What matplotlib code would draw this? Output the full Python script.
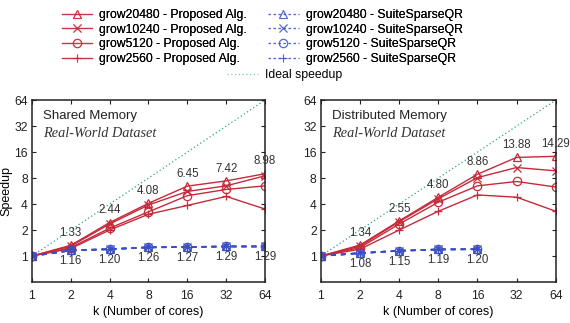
import matplotlib
matplotlib.use("Agg")
import matplotlib.pyplot as plt
from matplotlib.lines import Line2D

plt.rcParams['font.family'] = ['Liberation Sans', 'DejaVu Sans']

cores = [1, 2, 4, 8, 16, 32, 64]
datasets = ["grow20480", "grow10240", "grow5120", "grow2560"]
markers = ["^", "x", "o", "+"]

# Shared memory speedups (Proposed Alg.)
shared_prop = {
    "grow20480": [1, 1.33, 2.44, 4.08, 6.45, 7.42, 8.98],
    "grow10240": [1, 1.30, 2.35, 3.90, 5.60, 6.50, 8.50],
    "grow5120":  [1, 1.25, 2.10, 3.25, 5.00, 5.90, 6.50],
    "grow2560":  [1, 1.22, 2.00, 3.05, 3.85, 4.90, 3.50],
}
# Shared memory speedups (SuiteSparseQR)
shared_ssqr_vals = [1, 1.16, 1.20, 1.26, 1.27, 1.29, 1.29]

# Distributed memory speedups (Proposed Alg.)
dist_prop = {
    "grow20480": [1, 1.34, 2.55, 4.80, 8.86, 13.88, 14.29],
    "grow10240": [1, 1.30, 2.50, 4.60, 8.10, 10.60, 9.70],
    "grow5120":  [1, 1.25, 2.35, 4.20, 6.50, 7.30, 6.30],
    "grow2560":  [1, 1.20, 2.00, 3.30, 5.10, 4.80, 3.30],
}
dist_cores_ssqr = [1, 2, 4, 8, 16]
dist_ssqr_vals = [1, 1.08, 1.15, 1.19, 1.20]

shared_top_labels = ["1.33", "2.44", "4.08", "6.45", "7.42", "8.98"]
shared_bot_labels = ["1.16", "1.20", "1.26", "1.27", "1.29", "1.29"]
dist_top_labels = ["1.34", "2.55", "4.80", "8.86", "13.88", "14.29"]
dist_bot_labels = ["1.08", "1.15", "1.19", "1.20"]

tick_vals = [1, 2, 4, 8, 16, 32, 64]
tick_labels = ["1", "2", "4", "8", "16", "32", "64"]

RED = "#c62a3a"
BLUE = "#3b4fc4"
GREEN = "#2aa58a"

fig = plt.figure(figsize=(5.70, 3.23), dpi=100)
ax1 = fig.add_axes([0.056, 0.127, 0.409, 0.563])
ax2 = fig.add_axes([0.563, 0.127, 0.412, 0.563])


def draw(ax, prop, ssqr_x, ssqr_y, top_labels, bot_labels, title, ylabel):
    ax.plot([1, 64], [1, 64], linestyle=(0, (1, 2)), color=GREEN, lw=0.9)
    for name, m in zip(datasets, markers):
        ax.plot(cores, prop[name], color=RED, lw=1.0, marker=m, ms=6,
                mfc="none", mec=RED, mew=0.9)
    for m in markers:
        ax.plot(ssqr_x, ssqr_y, color=BLUE, lw=1.2, linestyle=(0, (3, 3)),
                marker=m, ms=6, mfc="none", mec=BLUE, mew=0.9)
    top = prop["grow20480"]
    for x, y, t in zip(cores[1:], top[1:], top_labels):
        ax.annotate(t, (x, y), xytext=(0, 4.5), textcoords="offset points",
                    ha="center", va="bottom", fontsize=8.3, color="#333333")
    for x, y, t in zip(ssqr_x[1:], ssqr_y[1:], bot_labels):
        ax.annotate(t, (x, y), xytext=(0, -3.5), textcoords="offset points",
                    ha="center", va="top", fontsize=8.3, color="#333333")
    ax.set_xscale("log", base=2)
    ax.set_yscale("log", base=2)
    ax.set_xlim(1, 64)
    ax.set_ylim(0.5, 64)
    ax.set_xticks(tick_vals)
    ax.set_xticklabels(tick_labels)
    ax.set_yticks(tick_vals)
    ax.set_yticklabels(tick_labels)
    ax.minorticks_off()
    ax.tick_params(direction="in", top=True, right=True, labelsize=8.7,
                   length=3, width=0.8, colors="#222222")
    ax.tick_params(axis="y", pad=3)
    ax.tick_params(axis="x", pad=6)
    for s in ax.spines.values():
        s.set_linewidth(1.1)
        s.set_color("#222222")
    ax.set_xlabel("k (Number of cores)", fontsize=9, labelpad=3)
    if ylabel:
        ax.set_ylabel(ylabel, fontsize=9, labelpad=1)
    ax.text(0.047, 0.915, title, transform=ax.transAxes, fontsize=9.5,
            color="#222222", va="center")
    ax.text(0.047, 0.815, "Real-World Dataset", transform=ax.transAxes,
            fontsize=10.3, family="Liberation Serif", style="italic",
            color="#333333", va="center")


draw(ax1, shared_prop, cores, shared_ssqr_vals, shared_top_labels,
     shared_bot_labels, "Shared Memory", "Speedup")
draw(ax2, dist_prop, dist_cores_ssqr, dist_ssqr_vals, dist_top_labels,
     dist_bot_labels, "Distributed Memory", None)

handles = []
labels = []
for name, m in zip(datasets, markers):
    handles.append(Line2D([], [], color=RED, lw=0.9, marker=m, ms=6,
                          mfc="none", mec=RED, mew=0.8, alpha=0.75))
    labels.append(f"{name} - Proposed Alg.")
for name, m in zip(datasets, markers):
    handles.append(Line2D([], [], color=BLUE, lw=0.9, linestyle=(0, (2, 2)),
                          marker=m, ms=6, mfc="none", mec=BLUE, mew=0.8,
                          alpha=0.6))
    labels.append(f"{name} - SuiteSparseQR")

leg = fig.legend(handles, labels, ncol=2, loc="upper left",
                 bbox_to_anchor=(0.108, 0.972), frameon=False, fontsize=8.8,
                 handlelength=2.5, handletextpad=0.6, columnspacing=1.7,
                 labelspacing=0.22, borderaxespad=0.0, borderpad=0.0)
fig.add_artist(leg)
ideal = Line2D([], [], color=GREEN, lw=0.9, linestyle=(0, (1, 2)), alpha=0.6)
fig.legend([ideal], ["Ideal speedup"], loc="upper center",
           bbox_to_anchor=(0.5, 0.787), frameon=False,
           fontsize=8.8, handlelength=2.5, handletextpad=0.6,
           borderaxespad=0.0, borderpad=0.0)

fig.savefig("out.png", dpi=100)
